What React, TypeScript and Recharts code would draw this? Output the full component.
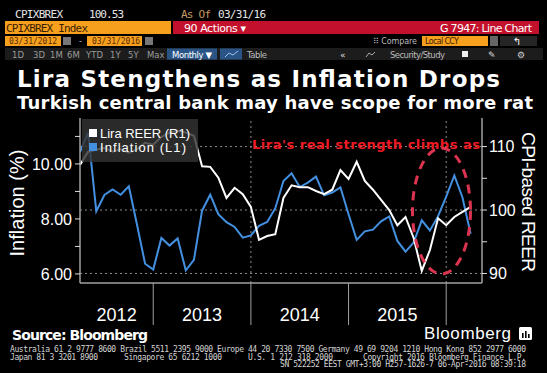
import React from 'react';
import { LineChart, Line, XAxis, YAxis, ReferenceLine } from 'recharts';

// monthly, 03/2012 .. 03/2016
const months = [
  'Mar 12', 'Apr 12', 'May 12', 'Jun 12', 'Jul 12', 'Aug 12', 'Sep 12', 'Oct 12', 'Nov 12', 'Dec 12',
  'Jan 13', 'Feb 13', 'Mar 13', 'Apr 13', 'May 13', 'Jun 13', 'Jul 13', 'Aug 13', 'Sep 13', 'Oct 13', 'Nov 13', 'Dec 13',
  'Jan 14', 'Feb 14', 'Mar 14', 'Apr 14', 'May 14', 'Jun 14', 'Jul 14', 'Aug 14', 'Sep 14', 'Oct 14', 'Nov 14', 'Dec 14',
  'Jan 15', 'Feb 15', 'Mar 15', 'Apr 15', 'May 15', 'Jun 15', 'Jul 15', 'Aug 15', 'Sep 15', 'Oct 15', 'Nov 15', 'Dec 15',
  'Jan 16', 'Feb 16', 'Mar 16',
];

// Inflation (L1), %
const inflation = [
  10.43, 11.14, 8.28, 8.87, 9.07, 8.88, 9.19, 7.8, 6.37, 6.16,
  7.31, 7.03, 7.29, 6.13, 6.51, 8.3, 8.88, 8.17, 7.88, 7.71, 7.32, 7.4,
  7.75, 7.89, 8.39, 9.38, 9.66, 9.16, 9.32, 9.54, 8.86, 8.96, 9.15, 8.17,
  7.24, 7.55, 7.61, 7.91, 8.09, 7.2, 6.81, 7.14, 7.95, 7.58, 8.1, 8.81,
  9.58, 8.78, 7.46,
];

// Lira REER (R1), CPI-based
const reer = [
  107.1, 109.2, 109.5, 109.8, 109.2, 109.6, 109.0, 109.6, 110.6, 110.3,
  111.5, 112.2, 112.5, 112.2, 111.7, 106.9, 106.8, 105.1, 101.9, 103.5, 102.5, 100.5,
  95.3, 95.9, 96.2, 101.9, 103.9, 103.6, 103.6, 103.0, 102.5, 103.2, 106.3, 104.9,
  107.6, 104.6, 103.2, 101.6, 100.0, 97.6, 98.9, 95.6, 90.4, 93.7, 98.7, 97.6,
  98.9, 99.7, 100.5,
];

const years = ['2012', '2013', '2014', '2015'];
const yearCenters = [4.5, 15, 27, 39];
const yearBreaks = [9, 21, 33, 45];
const gridMonths = [21, 45];
const leftTicks = [6, 7, 8, 9, 10, 11];
const rightTicks = [90, 95, 100, 105, 110];
const gridLevels = [90, 100, 110];

const data = months.map((m, i) => ({ i, month: m, inflation: inflation[i], reer: reer[i] }));

const AXIS = '#a0a0a0';
const GRID = '#8a8a8a';
const BLUE = '#4390e0';
const ORANGE = '#f6a01e';
const SANS = 'Liberation Sans, Arial, sans-serif';
const BOLD = 'DejaVu Sans, Verdana, sans-serif';
const MONO = 'DejaVu Sans Mono, monospace';

const XTick = (props: any) => {
  const { x, y, payload } = props;
  const v = payload.value;
  if (yearBreaks.includes(v)) {
    return <line x1={x} x2={x} y1={y} y2={y + 42} stroke={AXIS} strokeWidth={1} />;
  }
  const k = yearCenters.indexOf(v);
  return (
    <text x={x} y={y + 38} textAnchor="middle" fill="#fff" fontSize={18} fontFamily={SANS}>
      {years[k]}
    </text>
  );
};

const Header = () => (
  <g fontFamily={BOLD}>
    {/* row 1 */}
    <text x={15} y={18} fill="#e6e6e6" fontSize={11} fontFamily={MONO} textLength={48}>CPIXBREX</text>
    <text x={89} y={18} fill="#e6e6e6" fontSize={11} fontFamily={MONO} textLength={35}>100.53</text>
    <text x={181} y={18} fill="#c99a63" fontSize={11} fontFamily={MONO} textLength={30}>As Of</text>
    <text x={218} y={18} fill="#e6e6e6" fontSize={11} fontFamily={MONO} textLength={48}>03/31/16</text>
    {/* row 2 */}
    <rect x={5} y={21} width={166} height={13} fill={ORANGE} />
    <text x={6} y={31.5} fill="#3a1d00" fontSize={11} fontFamily={MONO} textLength={82}>CPIXBREX Index</text>
    <rect x={173} y={21} width={366} height={13} fill="#c3112d" />
    <text x={184} y={31.5} fill="#fff" fontSize={11} textLength={62}>90 Actions ▾</text>
    <text x={440} y={31.5} fill="#fff" fontSize={11} textLength={92}>G 7947: Line Chart</text>
    {/* row 3 */}
    <rect x={5} y={36} width={56} height={10} fill={ORANGE} />
    <text x={9} y={44} fill="#5a2a00" fontSize={8} fontFamily={MONO} textLength={48}>03/31/2012</text>
    <rect x={63} y={37} width={8} height={8} fill="#777" />
    <text x={79} y={44} fill="#ccc" fontSize={8}>-</text>
    <rect x={87} y={36} width={55} height={10} fill={ORANGE} />
    <text x={92} y={44} fill="#5a2a00" fontSize={8} fontFamily={MONO} textLength={48}>03/31/2016</text>
    <rect x={145} y={37} width={8} height={8} fill="#777" />
    <text x={373} y={44} fill="#bbb" fontSize={8} textLength={44}>⠿ Compare</text>
    <rect x={422} y={36} width={66} height={10} fill={ORANGE} />
    <text x={425} y={44} fill="#3a1d00" fontSize={8} textLength={34}>Local CCY</text>
    <rect x={490} y={36} width={8} height={10} fill="#666" />
    <rect x={500} y={36} width={37} height={10} fill="#262626" />
    <text x={513} y={45} fill="#fff" fontSize={10}>↰</text>
    {/* row 4 */}
    <rect x={5} y={48} width={538} height={12} fill="#1c1c1c" />
    {[['1D', 12], ['3D', 33], ['1M', 50], ['6M', 67], ['YTD', 86], ['1Y', 110], ['5Y', 128], ['Max', 147]].map(([t, x]) => (
      <text key={t as string} x={x as number} y={57.5} fill="#9a9a9a" fontSize={8.5}>{t}</text>
    ))}
    <rect x={167} y={48.5} width={50} height={11} fill="#2a5486" />
    <text x={172} y={57.5} fill="#fff" fontSize={8.5} textLength={40}>Monthly ▼</text>
    <rect x={220} y={48.5} width={22} height={11} fill="#2a5486" />
    <polyline points="225,57 229,53 233,55 238,51" fill="none" stroke="#9ec3ec" strokeWidth={1} />
    <text x={247} y={57.5} fill="#bbb" fontSize={8.5} textLength={20}>Table</text>
    <text x={340} y={57.5} fill="#ddd" fontSize={9}>«</text>
    <polyline points="366,57 369,53 372,55 375,52" fill="none" stroke="#aaa" strokeWidth={1} />
    <text x={390} y={57.5} fill="#bbb" fontSize={8.5} textLength={55}>Security/Study</text>
    <rect x={462} y={51} width={6} height={6} fill="#eee" />
    <text x={488} y={58} fill="#ddd" fontSize={9}>✎</text>
    <text x={517} y={58} fill="#ccc" fontSize={9}>⚙</text>
    {/* title */}
    <text x={17} y={87} fill="#fff" fontSize={23} fontWeight="bold" textLength={483}>Lira Stengthens as Inflation Drops</text>
    <text x={17} y={109} fill="#fff" fontSize={18} fontWeight="bold" textLength={516}>Turkish central bank may have scope for more rat</text>
  </g>
);

const Overlay = () => (
  <svg width={547} height={373} style={{ position: 'absolute', left: 0, top: 0, pointerEvents: 'none' }}>
    <Header />
    {/* legend */}
    <rect x={82} y={119} width={116} height={43} fill="#333" opacity={0.82} />
    <rect x={89} y={129} width={8} height={8} fill="#fff" />
    <text x={100} y={138} fill="#fff" fontSize={13} fontFamily={SANS} textLength={90}>Lira REER (R1)</text>
    <rect x={89} y={143} width={8} height={8} fill={BLUE} />
    <text x={100} y={152} fill="#fff" fontSize={13} fontFamily={SANS} textLength={86}>Inflation (L1)</text>
    {/* annotation */}
    <text x={252} y={149} fill="#ee1b24" fontSize={13} fontWeight="bold" fontFamily={BOLD} textLength={228}>Lira's real strength climbs as</text>
    <ellipse cx={441.5} cy={211} rx={29} ry={63} fill="none" stroke="#dc3450" strokeWidth={3} strokeDasharray="9 7" />
    {/* axis titles */}
    <text transform="translate(24,203) rotate(-90)" textAnchor="middle" fill="#fff" fontSize={20} fontFamily={SANS} textLength={107}>Inflation (%)</text>
    <text transform="translate(522,202) rotate(90)" textAnchor="middle" fill="#fff" fontSize={19} fontFamily={SANS} textLength={140}>CPI-based REER</text>
    {/* footer */}
    <text x={12} y={340} fill="#fff" fontSize={14} fontWeight="bold" fontFamily={BOLD} textLength={136}>Source: Bloomberg</text>
    <text x={424} y={339} fill="#fff" fontSize={17} fontFamily={SANS} textLength={87}>Bloomberg</text>
    <rect x={519} y={327} width={13} height={13} rx={1.5} fill="#fff" />
    <rect x={522} y={333} width={1.6} height={5} fill="#000" />
    <rect x={525} y={331} width={1.6} height={7} fill="#000" />
    <rect x={528} y={334} width={1.6} height={4} fill="#000" />
    <g fill="#d4d4d4" fontSize={8} fontFamily={MONO}>
      <text x={10} y={352} textLength={516}>Australia 61 2 9777 8600 Brazil 5511 2395 9000 Europe 44 20 7330 7500 Germany 49 69 9204 1210 Hong Kong 852 2977 6000</text>
      <text x={10} y={359.5} textLength={88}>Japan 81 3 3201 8900</text>
      <text x={124} y={359.5} textLength={98}>Singapore 65 6212 1000</text>
      <text x={248} y={359.5} textLength={85}>U.S. 1 212 318 2000</text>
      <text x={363} y={359.5} textLength={163}>Copyright 2016 Bloomberg Finance L.P.</text>
      <text x={280} y={367} textLength={246}>SN 522252 EEST GMT+3:00 H257-1626-7 06-Apr-2016 08:39:18</text>
    </g>
  </svg>
);

export default function App() {
  return (
    <div style={{ position: 'absolute', left: 0, top: 0, width: 547, height: 373, background: '#000', overflow: 'hidden' }}>
      <LineChart
        width={547}
        height={373}
        data={data}
        margin={{ top: 118, right: 0, bottom: 48, left: 0 }}
        style={{ position: 'absolute', left: 0, top: 0 }}
      >
        <XAxis
          dataKey="i"
          type="number"
          domain={[0, 49.4]}
          allowDataOverflow
          ticks={[...yearCenters, ...yearBreaks].sort((a, b) => a - b)}
          interval={0}
          height={42}
          tickSize={0}
          tickMargin={0}
          tickLine={false}
          tick={<XTick />}
          axisLine={{ stroke: AXIS, strokeWidth: 1.5 }}
        />
        <YAxis
          yAxisId="l"
          orientation="left"
          width={80}
          domain={[5.67, 11.67]}
          allowDataOverflow
          ticks={leftTicks}
          interval={0}
          tickFormatter={(v: number) => (v % 2 === 0 ? v.toFixed(2) : '')}
          tick={{ fill: '#fff', fontSize: 16, fontFamily: SANS }}
          tickSize={5}
          tickMargin={3}
          tickLine={{ stroke: '#ddd' }}
          axisLine={{ stroke: AXIS, strokeWidth: 1.5 }}
        />
        <YAxis
          yAxisId="r"
          orientation="right"
          width={65}
          domain={[88.5, 114.5]}
          allowDataOverflow
          ticks={rightTicks}
          interval={0}
          tickFormatter={(v: number) => (v % 10 === 0 ? String(v) : '')}
          tick={{ fill: '#fff', fontSize: 16, fontFamily: SANS }}
          tickSize={5}
          tickMargin={2}
          tickLine={{ stroke: '#ddd' }}
          axisLine={{ stroke: AXIS, strokeWidth: 1.5 }}
        />
        {gridLevels.map((g) => (
          <ReferenceLine key={g} yAxisId="r" y={g} stroke={GRID} strokeDasharray="2 3" />
        ))}
        {gridMonths.map((m) => (
          <ReferenceLine key={m} yAxisId="r" x={m} stroke={GRID} strokeDasharray="2 3" />
        ))}
        <Line yAxisId="l" dataKey="inflation" stroke={BLUE} strokeWidth={2} dot={false} isAnimationActive={false} />
        <Line yAxisId="r" dataKey="reer" stroke="#fff" strokeWidth={2} dot={false} isAnimationActive={false} />
      </LineChart>
      <Overlay />
    </div>
  );
}
